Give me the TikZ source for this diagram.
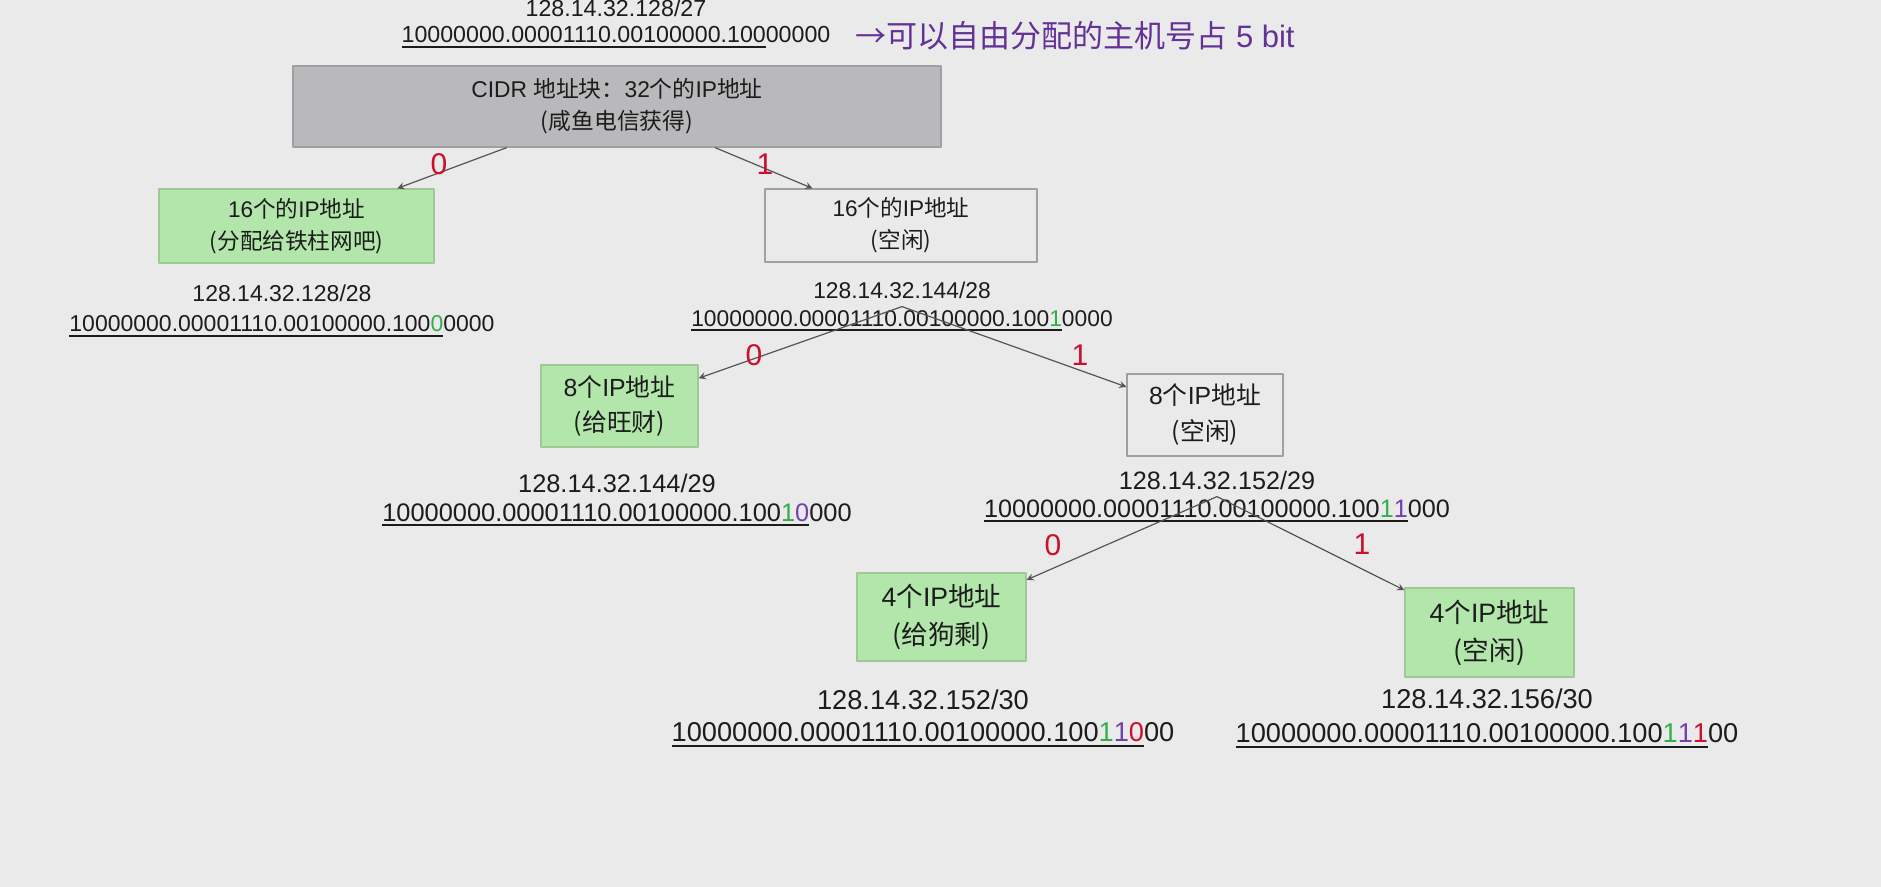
\documentclass[tikz,border=0pt]{standalone}
\usepackage{fontspec}
\setmainfont{Liberation Sans}
\newfontfamily\cjk{Noto Sans CJK SC}
\definecolor{bgpage}{RGB}{234,234,235}
\definecolor{usedgreen}{RGB}{178,230,170}
\definecolor{usedline}{RGB}{160,200,150}
\definecolor{rootgray}{RGB}{185,185,187}
\definecolor{boxline}{RGB}{160,160,162}
\definecolor{linkgray}{RGB}{85,85,85}
\definecolor{inkgray}{RGB}{28,28,28}
\definecolor{bitred}{RGB}{205,15,45}
\definecolor{bitgreen}{RGB}{50,175,75}
\definecolor{bitpurple}{RGB}{115,65,175}
\definecolor{notepurple}{RGB}{100,50,150}
\newcommand{\zh}[1]{{\cjk #1}}
\newcommand{\netpre}{10000000.00001110.00100000.100}
\newcommand{\netbits}[1]{\setbox0=\hbox{#1}\rlap{\color{inkgray}\rule[-2.6pt]{\wd0}{1pt}}\box0\relax}
\newcommand{\bitG}[1]{\textcolor{bitgreen}{#1}}
\newcommand{\bitP}[1]{\textcolor{bitpurple}{#1}}
\newcommand{\bitR}[1]{\textcolor{bitred}{#1}}
\begin{document}
\begin{tikzpicture}[x=0.5pt,y=-0.5pt,>=stealth,line join=round,
	txt/.style 2 args={font=\fontsize{#1}{#2}\selectfont},
	blk/.style={draw=boxline,line width=0.6pt,align=center,inner sep=0pt,text=inkgray},
	used/.style={blk,fill=usedgreen,draw=usedline},
	addr/.style={align=center,inner sep=0pt,text=inkgray},
	bit/.style={text=bitred,inner sep=0pt,font=\fontsize{15}{15}\selectfont},
	link/.style={->,draw=linkgray,line width=0.6pt}]
	\useasboundingbox[fill=bgpage] (0,0) rectangle (1881,887);
	% the /27 block
	\node[addr,txt={11.6}{13}] (net27) at (616,23.6) {128.14.32.128/27\\\netbits{\netpre}00000};
	\node[anchor=west,inner sep=0pt,text=notepurple,txt={15.5}{16}] (note) at (855,36) {\zh{→可以自由分配的主机号占} 5 bit};
	\node[blk,fill=rootgray,txt={11.4}{16},minimum width=324pt,minimum height=40.5pt] (cidr) at (617,106.5) {CIDR \zh{地址块：}32\zh{个的}IP\zh{地址}\\\zh{(咸鱼电信获得)}};
	% /28
	\node[used,txt={11.3}{16},minimum width=137.5pt,minimum height=37pt] (blk16a) at (296.5,226) {16\zh{个的}IP\zh{地址}\\\zh{(分配给铁柱网吧)}};
	\node[blk,txt={11.3}{16},minimum width=136pt,minimum height=36.5pt] (blk16b) at (901,225.5) {16\zh{个的}IP\zh{地址}\\\zh{(空闲)}};
	\node[addr,txt={11.5}{15}] (net28a) at (282,310.6) {128.14.32.128/28\\\netbits{\netpre\bitG{0}}0000};
	\node[addr,txt={11.4}{14}] (net28b) at (902,306.6) {128.14.32.144/28\\\netbits{\netpre\bitG{1}}0000};
	% /29
	\node[used,txt={12.4}{17.5},minimum width=78.5pt,minimum height=41pt] (blk8a) at (619.5,406) {8\zh{个}IP\zh{地址}\\\zh{(给旺财)}};
	\node[blk,txt={12.4}{18},minimum width=78pt,minimum height=41pt] (blk8b) at (1205,415) {8\zh{个}IP\zh{地址}\\\zh{(空闲)}};
	\node[addr,txt={12.7}{14.5}] (net29a) at (617,500) {128.14.32.144/29\\\netbits{\netpre\bitG{1}\bitP{0}}000};
	\node[addr,txt={12.6}{14}] (net29b) at (1217,496.6) {128.14.32.152/29\\\netbits{\netpre\bitG{1}\bitP{1}}000};
	% /30
	\node[used,txt={13.3}{19},minimum width=84.5pt,minimum height=44pt] (blk4a) at (941.5,617) {4\zh{个}IP\zh{地址}\\\zh{(给狗剩)}};
	\node[used,txt={13.3}{19},minimum width=84.5pt,minimum height=44.5pt] (blk4b) at (1489.5,632.5) {4\zh{个}IP\zh{地址}\\\zh{(空闲)}};
	\node[addr,txt={13.6}{16}] (net30a) at (923,718.6) {128.14.32.152/30\\\netbits{\netpre\bitG{1}\bitP{1}\bitR{0}}00};
	\node[addr,txt={13.6}{17}] (net30b) at (1487,718.6) {128.14.32.156/30\\\netbits{\netpre\bitG{1}\bitP{1}\bitR{1}}00};
	% splits
	\draw[link] (cidr) -- (blk16a);
	\draw[link] (cidr) -- (blk16b);
	\draw[link] (net28b.center) -- (blk8a);
	\draw[link] (net28b.center) -- (blk8b);
	\draw[link] (net29b.center) -- (blk4a);
	\draw[link] (net29b.center) -- (blk4b);
	\node[bit] (cut16a) at (439,164) {0};
	\node[bit] (cut16b) at (765,164) {1};
	\node[bit] (cut8a) at (754,355) {0};
	\node[bit] (cut8b) at (1080,355) {1};
	\node[bit] (cut4a) at (1053,545) {0};
	\node[bit] (cut4b) at (1362,544) {1};
\end{tikzpicture}
\end{document}
